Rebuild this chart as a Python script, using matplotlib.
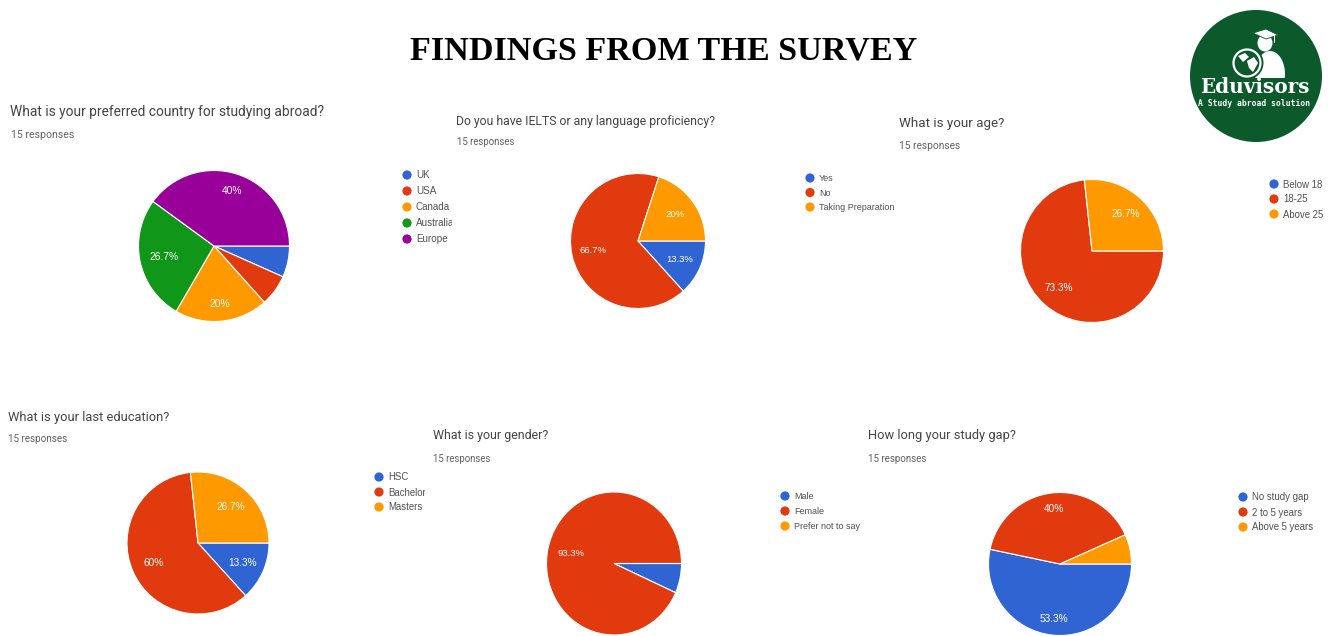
import numpy as np
import matplotlib
matplotlib.use('Agg')
import matplotlib.pyplot as plt
from matplotlib.patches import Circle, Polygon, Ellipse, Rectangle
from matplotlib.transforms import Bbox

W, H = 1334, 636
BLUE, RED, ORANGE, GREEN, PURPLE = '#3064d2', '#e03a0e', '#ff9900', '#109618', '#990099'

# survey answers, in percent
country_labels = ['UK', 'USA', 'Canada', 'Australia', 'Europe']
country_values = [6.7, 6.7, 20, 26.7, 40]
ielts_labels = ['Yes', 'No', 'Taking Preparation']
ielts_values = [13.3, 66.7, 20]
age_labels = ['Below 18', '18-25', 'Above 25']
age_values = [0, 73.3, 26.7]
education_labels = ['HSC', 'Bachelor', 'Masters']
education_values = [13.3, 60, 26.7]
gender_labels = ['Male', 'Female', 'Prefer not to say']
gender_values = [6.7, 93.3, 0]
gap_labels = ['No study gap', '2 to 5 years', 'Above 5 years']
gap_values = [53.3, 40, 6.7]

plt.rcParams['font.family'] = ['Roboto', 'DejaVu Sans']
SMALL = 'Liberation Sans'

fig = plt.figure(figsize=(W / 100, H / 100), dpi=100, facecolor='white')

# full-figure layer in pixel coordinates for the text and the logo
bg = fig.add_axes([0, 0, 1, 1])
bg.set_xlim(0, W)
bg.set_ylim(H, 0)
bg.axis('off')


def survey_pie(question, qx, qy, qsize, rx, ry, rsize, values, labels, colors,
               cx, cy, rw, rh, label_r, lx, ly, step, lsize=6.9, clip_x=None):
    bg.text(qx, qy, question, fontsize=qsize, color='#444444', va='center', ha='left')
    bg.text(rx, ry, '15 responses', fontsize=rsize, color='#606060', va='center', ha='left')

    # pie gets its own axes, 3 o'clock start and clockwise like the forms chart
    ax = fig.add_axes([(cx - rw) / W, 1 - (cy + rh) / H, 2 * rw / W, 2 * rh / H])
    wedges, _ = ax.pie(values, colors=colors, startangle=0, counterclock=False, radius=1,
                       wedgeprops={'edgecolor': 'white', 'linewidth': 0.8})
    ax.set_aspect('auto')
    ax.set_xlim(-1, 1)
    ax.set_ylim(-1, 1)
    for wedge, val, dist in zip(wedges, values, np.broadcast_to(label_r, len(values))):
        if val < 10:
            continue
        mid = np.radians((wedge.theta1 + wedge.theta2) / 2)
        ax.text(dist * np.cos(mid), dist * np.sin(mid), '%g%%' % val, color='white',
                family=SMALL, fontsize=lsize + 0.3, ha='center', va='center')

    for i, (name, col) in enumerate(zip(labels, colors)):
        y = ly + i * step
        bg.add_patch(Circle((lx, y), 4.6, color=col, lw=0))
        t = bg.text(lx + 9, y + 0.5, name, family=SMALL, fontsize=lsize, color='#505050',
                    va='center', ha='left')
        # long legend entries are cut off at the edge of the chart
        if clip_x is not None:
            t.set_clip_on(True)
            t.set_clip_box(Bbox([[0, 0], [clip_x, H]]))


colors3 = [BLUE, RED, ORANGE]
survey_pie('What is your preferred country for studying abroad?', 10, 112, 9.95, 11, 135, 7.6,
           country_values, country_labels, [BLUE, RED, ORANGE, GREEN, PURPLE],
           214, 246, 75.5, 75.5, [0.75, 0.75, 0.77, 0.68, 0.77], 407, 175, 16, lsize=7.1, clip_x=452)
survey_pie('Do you have IELTS or any language proficiency?', 456, 122, 8.8, 457, 142, 6.9,
           ielts_values, ielts_labels, colors3, 638, 241, 67.5, 67.5, 0.68, 810, 178, 14.5, lsize=6.5)
survey_pie('What is your age?', 899, 123, 9.6, 899, 146, 7.3,
           age_values, age_labels, colors3, 1092, 251, 71.5, 71.5, 0.70, 1274, 184, 15)
survey_pie('What is your last education?', 8, 417, 9.3, 8, 439, 7.1,
           education_values, education_labels, colors3, 198, 543, 71, 71, 0.69, 379, 477, 15, clip_x=425)
survey_pie('What is your gender?', 433, 436, 8.9, 433, 459, 6.9,
           gender_values, gender_labels, colors3, 614, 563.5, 67.5, 71.5, 0.65, 785, 496, 15, lsize=6.5)
survey_pie('How long your study gap?', 868, 436, 9.3, 868, 459, 7.0,
           gap_values, gap_labels, colors3, 1060, 564, 71.5, 71.5, 0.77, 1243, 497, 15)

bg.text(664, 51, 'FINDINGS FROM THE SURVEY', family='Liberation Serif', fontweight='bold',
        fontsize=24.6, color='black', ha='center', va='center')

# logo: green disc, student with cap in front of a globe
LOGO = '#0c5a2b'
bg.add_patch(Circle((1256, 76), 66, color=LOGO, lw=0))
body = Ellipse((1270, 74), 30, 46, color='white', lw=0)
bg.add_patch(body)
body.set_clip_path(Rectangle((1250, 50), 40, 28, transform=bg.transData))
bg.add_patch(Ellipse((1265, 43), 15, 17, color='white', lw=0))
bg.add_patch(Polygon([[1253, 33], [1266, 29], [1278, 35], [1266, 39]], facecolor='white',
                     edgecolor=LOGO, lw=0.6))
bg.add_patch(Rectangle((1274, 35), 1.2, 8, color='white', lw=0))
bg.add_patch(Circle((1247, 63), 16.5, color=LOGO, lw=0))
bg.add_patch(Circle((1247, 63), 13.5, facecolor=LOGO, edgecolor='white', lw=1.6))
bg.add_patch(Polygon([[1238, 56], [1245, 53], [1249, 57], [1243, 62]], color='white', lw=0))
bg.add_patch(Polygon([[1247, 61], [1254, 57], [1258, 63], [1253, 72], [1249, 68]], color='white', lw=0))
bg.text(1255, 87, 'Eduvisors', family='DejaVu Serif', fontweight='bold', fontsize=14.4,
        color='white', ha='center', va='center')
bg.text(1254, 103, 'A Study abroad solution', family='DejaVu Sans Mono', fontweight='bold',
        fontsize=5.8, color='white', ha='center', va='center')

fig.savefig('out.png', dpi=100)
